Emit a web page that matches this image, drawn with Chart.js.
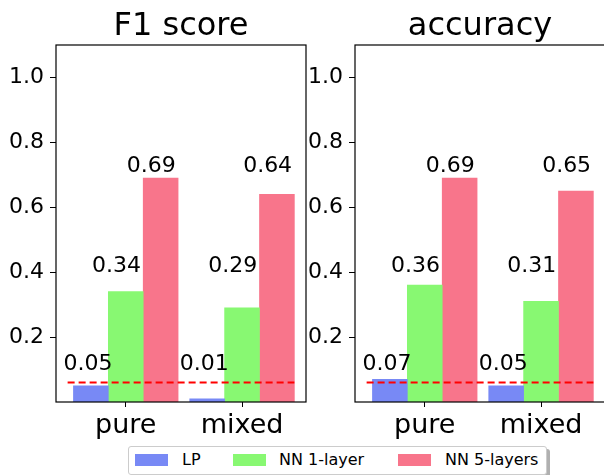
<!DOCTYPE html>
<html>
<head>
<meta charset="utf-8">
<script src="https://cdn.jsdelivr.net/npm/chart.js@4.4.1/dist/chart.umd.min.js"></script>
<style>
  html, body { margin: 0; padding: 0; background: #fff; }
  body { width: 604px; height: 475px; position: relative; overflow: hidden; font-family: "DejaVu Sans", sans-serif; }
  canvas { position: absolute; top: 0; }
  #c1 { left: 0; }
  #c2 { left: 299px; }
  #legend {
    position: absolute; left: 128px; top: 446px; width: 417px; height: 27px;
    border: 1px solid #cccccc; border-radius: 3px; background: #fff;
    box-shadow: 3px 3px 0 #b0b0b0;
  }
  .sw { position: absolute; top: 7px; width: 33px; height: 12px; }
  .lt { position: absolute; top: 3px; font-size: 16px; line-height: 19px; color: #000; white-space: nowrap; }
</style>
</head>
<body>
<canvas id="c1" width="310" height="445"></canvas>
<canvas id="c2" width="310" height="445"></canvas>
<div id="legend"></div>
<script>
// Categories and series
const categories = ['pure', 'mixed'];
const seriesNames = ['LP', 'NN 1-layer', 'NN 5-layers'];

// F1 score per category
const f1LP  = [0.05, 0.01];
const f1NN1 = [0.34, 0.29];
const f1NN5 = [0.69, 0.64];

// Accuracy per category
const accLP  = [0.07, 0.05];
const accNN1 = [0.36, 0.31];
const accNN5 = [0.69, 0.65];

// Reference level drawn as a dashed line
const baselineLevel = 0.06;

// Y tick labels
const yTicks = [0.2, 0.4, 0.6, 0.8, 1.0];

const colors = ['#7889f5', '#88f872', '#f8758b'];
const FONT = '"DejaVu Sans"';

// Bar offsets within a group, label placement and dashed line span
const barOffsets = [-0.3, 0, 0.3];
const labelShift = [-0.025, -0.08, -0.08];
const labelLevels = [0.1, 0.4, 0.71];
const lineSpan = [-0.5, 1.45];

// Frame around the plotting area
const framePlugin = {
  id: 'frame',
  afterDraw(chart) {
    const {ctx, chartArea: a} = chart;
    ctx.save();
    ctx.strokeStyle = '#000';
    ctx.lineWidth = 1.2;
    ctx.strokeRect(a.left, a.top, a.right - a.left, a.bottom - a.top);
    ctx.restore();
  }
};

// Numeric labels over each series
const valueLabels = {
  id: 'valueLabels',
  afterDatasetsDraw(chart) {
    const {ctx} = chart;
    const xs = chart.scales.x, ys = chart.scales.y;
    ctx.save();
    ctx.font = '22px ' + FONT;
    ctx.fillStyle = '#000';
    ctx.textAlign = 'center';
    ctx.textBaseline = 'alphabetic';
    chart.data.datasets.forEach((ds, i) => {
      if (ds.type === 'line') return;
      ds.data.forEach((pt) => {
        const x = xs.getPixelForValue(pt.x + labelShift[i]);
        const y = ys.getPixelForValue(labelLevels[i]);
        ctx.fillText(pt.y.toFixed(2), x, y);
      });
    });
    ctx.restore();
  }
};

function makeChart(id, title, series) {
  const datasets = series.map((vals, i) => ({
    type: 'bar',
    label: seriesNames[i],
    data: vals.map((v, j) => ({x: j + barOffsets[i], y: v})),
    backgroundColor: colors[i],
    borderWidth: 0,
    grouped: false,
    categoryPercentage: 1,
    barPercentage: 1,
    order: 1
  }));
  datasets.push({
    type: 'line',
    label: 'baseline',
    data: lineSpan.map(x => ({x: x, y: baselineLevel})),
    borderColor: '#ff0000',
    borderWidth: 2,
    borderDash: [7, 4],
    pointRadius: 0,
    fill: false,
    order: 0
  });

  return new Chart(document.getElementById(id), {
    type: 'bar',
    data: {datasets},
    plugins: [framePlugin, valueLabels],
    options: {
      responsive: false,
      animation: false,
      devicePixelRatio: 1,
      layout: {padding: {left: 0, right: 4, top: 0, bottom: 0}},
      plugins: {
        legend: {display: false},
        tooltip: {enabled: false},
        title: {
          display: true,
          text: title,
          fullSize: false,
          color: '#000',
          font: {family: FONT, size: 32, weight: 'normal', lineHeight: 1.1},
          padding: {top: 8.6, bottom: 1.2}
        }
      },
      scales: {
        x: {
          type: 'linear',
          min: -0.6,
          max: 1.55,
          offset: false,
          grid: {display: true, offset: false, drawOnChartArea: false, drawTicks: true, tickLength: 5, color: '#000', lineWidth: 1},
          border: {display: false},
          afterBuildTicks(s) { s.ticks = categories.map((c, k) => ({value: k})); },
          afterFit(s) { s.height = 43; },
          ticks: {
            autoSkip: false, maxRotation: 0, padding: 3,
            color: '#000', font: {family: FONT, size: 27},
            callback: (v) => categories[v]
          }
        },
        y: {
          type: 'linear',
          min: 0,
          max: 1.1,
          grid: {display: true, drawOnChartArea: false, drawTicks: true, tickLength: 6, color: '#000', lineWidth: 1},
          border: {display: false},
          afterBuildTicks(s) { s.ticks = yTicks.map(v => ({value: v})); },
          afterFit(s) { s.width = 56; },
          ticks: {
            padding: 6, color: '#000', font: {family: FONT, size: 22},
            callback: (v) => Number(v).toFixed(1)
          }
        }
      }
    }
  });
}

makeChart('c1', 'F1 score', [f1LP, f1NN1, f1NN5]);
makeChart('c2', 'accuracy', [accLP, accNN1, accNN5]);

// Legend shared by both panels
const legend = document.getElementById('legend');
const swLeft = [6, 104, 269];
const txtLeft = [53, 150, 316];
seriesNames.forEach((name, i) => {
  const sw = document.createElement('div');
  sw.className = 'sw';
  sw.style.left = swLeft[i] + 'px';
  sw.style.background = colors[i];
  legend.appendChild(sw);
  const t = document.createElement('div');
  t.className = 'lt';
  t.style.left = txtLeft[i] + 'px';
  t.textContent = name;
  legend.appendChild(t);
});
</script>
</body>
</html>
